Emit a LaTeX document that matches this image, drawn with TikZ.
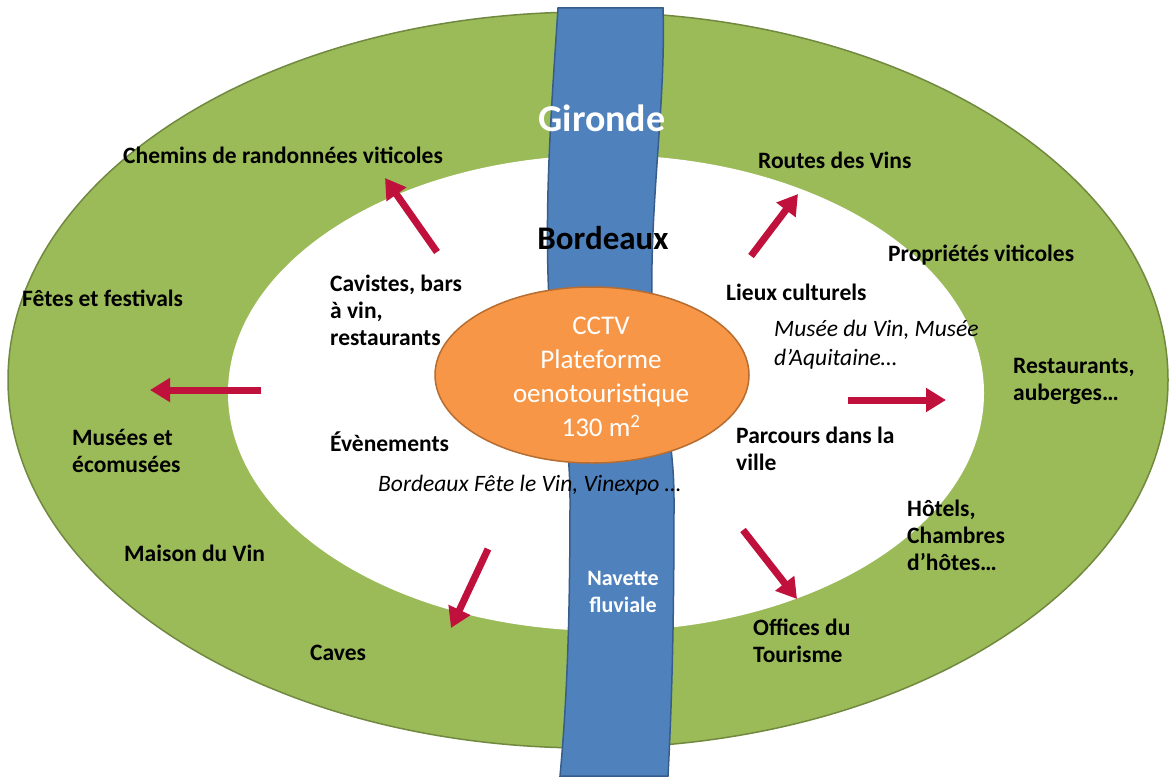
\documentclass[tikz,border=0pt]{standalone}
\usepackage{fontspec}
\setmainfont{Carlito}
\usetikzlibrary{arrows.meta,shapes.geometric}
\definecolor{ringgreen}{HTML}{9BBB59}
\definecolor{ringedge}{HTML}{71893F}
\definecolor{riverblue}{HTML}{4F81BD}
\definecolor{riveredge}{HTML}{385D8A}
\definecolor{hubfill}{HTML}{F79646}
\definecolor{hubedge}{HTML}{B66D31}
\definecolor{arrowred}{RGB}{192,16,60}
\tikzset{
  lab/.style={font=\bfseries\fontsize{23.5}{27}\selectfont, inner sep=0pt, anchor=west, align=left, text=black},
  itlab/.style={font=\itshape\fontsize{23.5}{29}\selectfont, inner sep=0pt, anchor=west, align=left, text=black},
  whitelab/.style={font=\bfseries\fontsize{22}{27}\selectfont, inner sep=0pt, align=center, text=white},
  bigarrow/.style={draw=arrowred, line width=7pt, -{Triangle[length=20pt,width=23pt]}}
}
\begin{document}
\begin{tikzpicture}[x=1pt,y=-1pt]
\useasboundingbox (0,0) rectangle (1172,776);
% outer ring
\path[fill=ringgreen, draw=ringedge, line width=1.5pt] (588,380) ellipse [x radius=580pt, y radius=368pt];
% inner white area
\path[fill=white] (606,393) ellipse [x radius=378pt, y radius=238pt];
% river
\path[fill=riverblue, draw=riveredge, line width=1.5pt]
  (558,8) .. controls (552,100) and (544,200) .. (549,300)
  .. controls (553,380) and (570,420) .. (570,500)
  .. controls (570,620) and (567,700) .. (560,776)
  -- (668,776)
  .. controls (672,700) and (674,620) .. (674,500)
  .. controls (674,420) and (653,380) .. (652,300)
  .. controls (650,200) and (666,100) .. (663,8) -- cycle;
% hub
\node[ellipse, minimum width=314pt, minimum height=176pt, fill=hubfill, draw=hubedge, line width=1.5pt, inner sep=0pt] (hub) at (592,375) {};
\node[whitelab, font=\fontsize{27}{34}\selectfont] (cctv) at (601,377) {CCTV\\Plateforme\\oenotouristique\\130 m\textsuperscript{2}};
% titles
\node[font=\bfseries\fontsize{38}{40}\selectfont, text=white, inner sep=0pt] (gironde) at (602,118) {Gironde};
\node[font=\bfseries\fontsize{33}{36}\selectfont, text=black, inner sep=0pt] (bordeaux) at (603,238) {Bordeaux};
\node[whitelab] (navette) at (623,592) {Navette\\fluviale};
% labels outer ring
\node[lab] (chemins) at (123,155) {Chemins de randonnées viticoles};
\node[lab] (routes) at (758,160) {Routes des Vins};
\node[lab] (proprietes) at (888,255) {Propriétés viticoles};
\node[lab] (fetes) at (22,298) {Fêtes et festivals};
\node[lab] (restaurants) at (1013,381) {Restaurants,\\auberges…};
\node[lab] (musees) at (72,451) {Musées et\\écomusées};
\node[lab] (hotels) at (907,535) {Hôtels,\\Chambres\\d’hôtes…};
\node[lab] (maison) at (124,553) {Maison du Vin};
\node[lab] (caves) at (310,653) {Caves};
\node[lab] (offices) at (753,641) {Offices du\\Tourisme};
% labels inner area
\node[lab] (cavistes) at (330,310) {Cavistes, bars\\à vin,\\restaurants};
\node[lab] (lieux) at (726,292) {Lieux culturels};
\node[itlab] (museevin) at (774,345) {Musée du Vin, Musée\\d’Aquitaine…};
\node[lab] (evenements) at (330,442) {Évènements};
\node[itlab] (fete) at (378,485) {Bordeaux Fête le Vin, Vinexpo …};
\node[lab] (parcours) at (736,449) {Parcours dans la\\ville};
% arrows
\coordinate (a1s) at (437,252); \coordinate (a1e) at (385,178);
\coordinate (a2s) at (261,390); \coordinate (a2e) at (150,390);
\coordinate (a3s) at (751,256); \coordinate (a3e) at (798,194);
\coordinate (a4s) at (848,400); \coordinate (a4e) at (946,400);
\coordinate (a5s) at (488,549); \coordinate (a5e) at (451,628);
\coordinate (a6s) at (743,530); \coordinate (a6e) at (797,599);
\draw[bigarrow] (a1s) -- (a1e);
\draw[bigarrow] (a2s) -- (a2e);
\draw[bigarrow] (a3s) -- (a3e);
\draw[bigarrow] (a4s) -- (a4e);
\draw[bigarrow] (a5s) -- (a5e);
\draw[bigarrow] (a6s) -- (a6e);
\end{tikzpicture}
\end{document}
